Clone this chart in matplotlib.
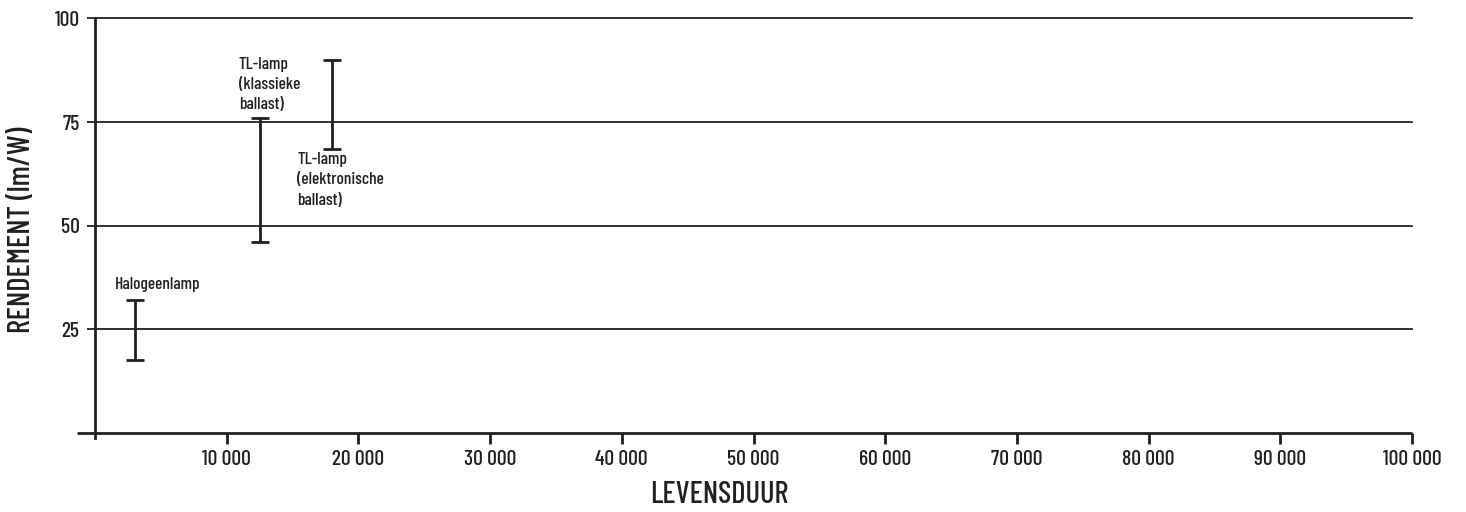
import matplotlib
matplotlib.use("Agg")
import matplotlib.pyplot as plt
from matplotlib.ticker import FixedLocator, FuncFormatter

# Data
lamps = ["Halogeenlamp", "TL-lamp\n(klassieke\nballast)", "TL-lamp\n(elektronische\nballast)"]
lifetime = [3000, 12500, 18000]
eff_low = [17.5, 46, 68.5]
eff_high = [32, 76, 90]
x_ticks = [10000, 20000, 30000, 40000, 50000, 60000, 70000, 80000, 90000, 100000]
y_ticks = [25, 50, 75, 100]

C = "#231f20"
FONT = ["Barlow Condensed", "DejaVu Sans"]
plt.rcParams["font.family"] = FONT
plt.rcParams["font.weight"] = "medium"

fig = plt.figure(figsize=(14.66, 5.12), dpi=100)
ax = fig.add_axes([95/1466, 1-433/512, (1412-95)/1466, (433-18.5)/512])
ax.set_xlim(0, 100000)
ax.set_ylim(0, 100)

for s in ["top", "right", "bottom"]:
    ax.spines[s].set_visible(False)
ax.spines["left"].set_color(C)
ax.spines["left"].set_linewidth(2)

# bottom axis line extending slightly left of y-axis
ax.plot([-0.014, 1.0], [0, 0], transform=ax.transAxes, color=C, lw=2, clip_on=False, solid_capstyle="butt")

# horizontal grid lines
for v in y_ticks:
    ax.axhline(v, color=C, lw=1.3, zorder=1, clip_on=False)

ax.xaxis.set_major_locator(FixedLocator(x_ticks))
ax.yaxis.set_major_locator(FixedLocator(y_ticks))
ax.xaxis.set_major_formatter(FuncFormatter(lambda v, p: f"{int(v):,}".replace(",", " ")))
ax.yaxis.set_major_formatter(FuncFormatter(lambda v, p: f"{int(v)}"))
ax.tick_params(axis="x", direction="out", length=8, width=2, color=C, labelcolor=C, labelsize=15.5, pad=4)
ax.tick_params(axis="y", direction="out", length=6, width=1.3, color=C, labelcolor=C, labelsize=15.5, pad=5)
for lbl in ax.get_xticklabels() + ax.get_yticklabels():
    lbl.set_fontweight("medium")
# tick at x=0 going down
ax.plot([0, 0], [0, -0.012], transform=ax.transAxes, color=C, lw=2, clip_on=False)

# error bars
for x, lo, hi in zip(lifetime, eff_low, eff_high):
    mid = (lo + hi) / 2
    ax.errorbar([x], [mid], yerr=[[mid - lo], [hi - mid]], fmt="none", ecolor=C,
                elinewidth=2, capsize=6.5, capthick=2, zorder=3)

# labels
ax.annotate(lamps[0], xy=(lifetime[0], eff_high[0]), xytext=(-14, 6), textcoords="offset points",
            ha="left", va="bottom", fontsize=12.5, color=C, fontweight="medium")
ax.annotate(lamps[1], xy=(lifetime[1], eff_high[1]), xytext=(-15, 4), textcoords="offset points",
            ha="left", va="bottom", fontsize=12.5, color=C, linespacing=1.45, fontweight="medium")
ax.annotate(lamps[2], xy=(lifetime[2], eff_low[2]), xytext=(-25, -2), textcoords="offset points",
            ha="left", va="top", fontsize=12.5, color=C, linespacing=1.45, fontweight="medium")

fig.text(719/1466, 1-495/512, "LEVENSDUUR", ha="center", va="center", fontsize=22, color=C, fontweight="medium")
fig.text(22/1466, 1-230/512, "RENDEMENT (lm/W)", ha="center", va="center", rotation=90, fontsize=22, color=C, fontweight="medium")

fig.savefig("out.png", dpi=100)
